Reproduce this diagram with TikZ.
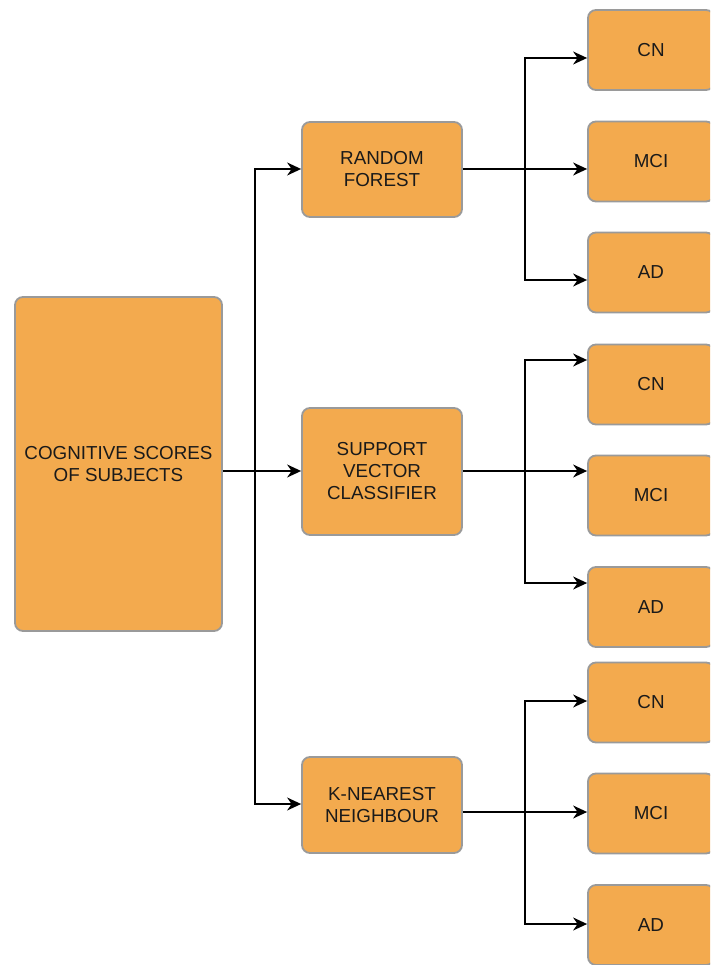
\documentclass[tikz,border=0pt]{standalone}
\usepackage{fontspec}
\setmainfont{Liberation Sans}
\usetikzlibrary{arrows.meta}
\definecolor{boxfill}{HTML}{F3AA4E}
\definecolor{boxline}{HTML}{9A9A9A}
\definecolor{txt}{HTML}{1A1A1A}
\begin{document}
\begin{tikzpicture}[x=1pt,y=-1pt,
  box/.style={draw=boxline, line width=1.8pt, fill=boxfill, rounded corners=8pt,
    align=center, font=\fontsize{18.8}{22}\selectfont, text=txt, inner sep=0pt},
  line/.style={line width=1.5pt, draw=black},
  conn/.style={line, -{Stealth[length=14pt,width=13pt,inset=4.5pt]}}
]
\clip (0,0) rectangle (710,965);
\useasboundingbox (0,0) rectangle (710,965);
\fill[white] (0,0) rectangle (710,965);

% source
\node[box, minimum width=207pt, minimum height=334pt] (main) at (118.5,464) {COGNITIVE SCORES\\OF SUBJECTS};

% classifiers
\node[box, minimum width=160pt, minimum height=95pt] (rf) at (382,169.5) {RANDOM\\FOREST};
\node[box, minimum width=160pt, minimum height=127pt] (svc) at (382,471.5) {SUPPORT\\VECTOR\\CLASSIFIER};
\node[box, minimum width=160pt, minimum height=96pt] (knn) at (382,805) {K-NEAREST\\NEIGHBOUR};

% outcomes
\foreach \n/\t/\y in {cna/CN/50, mcia/MCI/161.5, ada/AD/272.5,
                      cnb/CN/384.5, mcib/MCI/495.5, adb/AD/607,
                      cnc/CN/702.5, mcic/MCI/813.5, adc/AD/925}
  \node[box, minimum width=126pt, minimum height=80pt] (\n) at (651,\y) {\t};

% trunk
\coordinate (t) at (255,471);
\draw[conn] (main.east |- t) -- (svc.west |- t);
\draw[conn] (t) |- (rf.west |- 0,169);
\draw[conn] (t) |- (knn.west |- 0,804);

% branch 1
\coordinate (ba) at (525,169);
\draw[line] (rf.east |- ba) -- (ba);
\draw[conn] (ba) |- (cna.west |- 0,58);
\draw[conn] (ba) -- (mcia.west |- ba);
\draw[conn] (ba) |- (ada.west |- 0,280);

% branch 2
\coordinate (bb) at (525,471);
\draw[line] (svc.east |- bb) -- (bb);
\draw[conn] (bb) |- (cnb.west |- 0,360);
\draw[conn] (bb) -- (mcib.west |- bb);
\draw[conn] (bb) |- (adb.west |- 0,583);

% branch 3
\coordinate (bc) at (525,812);
\draw[line] (knn.east |- bc) -- (bc);
\draw[conn] (bc) |- (cnc.west |- 0,701);
\draw[conn] (bc) -- (mcic.west |- bc);
\draw[conn] (bc) |- (adc.west |- 0,924);
\end{tikzpicture}
\end{document}
